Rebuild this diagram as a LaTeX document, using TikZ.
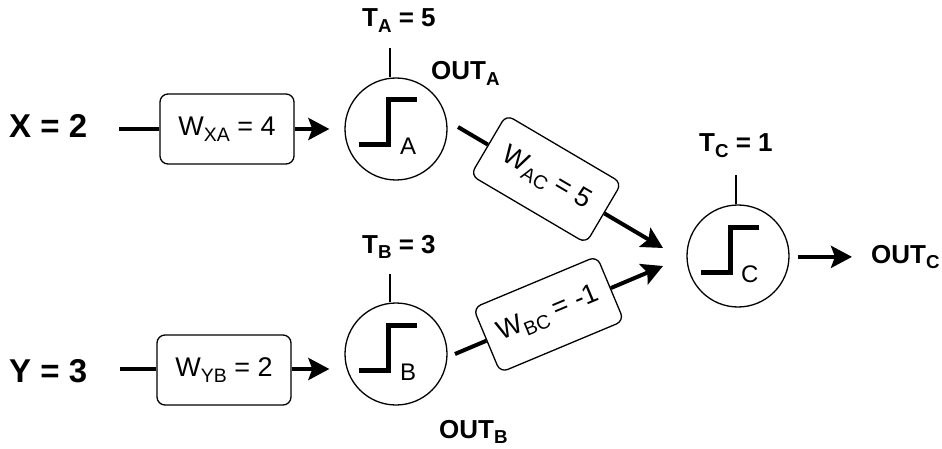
\documentclass[tikz,border=0pt]{standalone}
\usepackage{fontspec}
\setmainfont{Liberation Sans}
\usepackage{graphicx}
\usetikzlibrary{arrows.meta,calc}
\newcommand\sbs[1]{\raisebox{-0.22em}{\scalebox{0.72}{#1}}}
\begin{document}
\begin{tikzpicture}[x=1pt,y=-1pt,
  neuron/.style={circle,draw,line width=1.3pt,minimum size=102pt,inner sep=0pt},
  wbox/.style={draw,rounded corners=8pt,line width=1.3pt,minimum width=134pt,minimum height=70pt,inner sep=0pt,font=\fontsize{27}{30}\selectfont,fill=white},
  conn/.style={line width=4pt},
  arr/.style={conn,-{Stealth[length=21pt,width=22pt,inset=4pt]}},
  big/.style={font=\bfseries\fontsize{33}{36}\selectfont,inner sep=0pt},
  lab/.style={font=\bfseries\fontsize{26}{29}\selectfont,inner sep=0pt},
  clab/.style={font=\fontsize{24}{27}\selectfont,inner sep=0pt,anchor=base west},
  stepline/.style={line width=5pt,miter limit=10},
  thr/.style={line width=2.8pt},
]
\useasboundingbox (0,0) rectangle (942,449);

% inputs
\node[big,anchor=base west] (X) at (9,138) {X = 2};
\node[big,anchor=base west] (Y) at (9,382) {Y = 3};

% weight boxes
\node[wbox] (wxa) at (227,129) {W\sbs{XA} = 4};
\node[wbox] (wyb) at (224,370) {W\sbs{YB} = 2};

% neurons
\node[neuron] (A) at (396,129) {};
\node[neuron] (B) at (396,354) {};
\node[neuron] (C) at (738,256) {};

% step functions
\foreach \n in {A,B,C}{
  \draw[stepline] ($(\n)+(-37,16)$) -- ($(\n)+(-8,16)$) -- ($(\n)+(-8,-29)$) -- ($(\n)+(21,-29)$);
}
\node[clab] (la) at ($(A)+(4,26)$) {A};
\node[clab] (lb) at ($(B)+(4,26)$) {B};
\node[clab] (lc) at ($(C)+(3,26)$) {C};

% thresholds
\coordinate (ta) at ($(A.north)+(-6,-29)$);
\coordinate (tb) at ($(B.north)+(-6,-28)$);
\coordinate (tc) at ($(C.north)+(-2,-29)$);
\draw[thr] ([xshift=-6pt]A.north) -- (ta);
\draw[thr] ([xshift=-6pt]B.north) -- (tb);
\draw[thr] ([xshift=-2pt]C.north) -- (tc);

\node[lab,anchor=base west] (TA) at (362,27) {T\sbs{A} = 5};
\node[lab,anchor=base west] (OA) at (431,80) {OUT\sbs{A}};
\node[lab,anchor=base west] (TB) at (362,253) {T\sbs{B} = 3};
\node[lab,anchor=base west] (OB) at (439,438) {OUT\sbs{B}};
\node[lab,anchor=base west] (TC) at (699,152) {T\sbs{C} = 1};
\node[lab,anchor=base west] (OC) at (871,263) {OUT\sbs{C}};

% input connectors
\coordinate (xs) at (119,129);
\coordinate (ys) at (120,369);
\draw[conn] (xs) -- (wxa.west);
\draw[conn] (ys) -- (ys -| wyb.west);
\draw[arr] (wxa.east) -- ([xshift=-15pt]A.west);
\draw[arr] (wyb.east |- ys) -- ([xshift=-15pt]A.west |- ys);

% A -> C
\coordinate (acs) at (458,127);
\coordinate (ace) at (663,248);
\node[wbox,rotate=-30.5] (wac) at ($(acs)!0.43!(ace)$) {W\sbs{AC} = 5};
\draw[conn] (acs) -- (wac);
\draw[arr] (wac) -- (ace);

% B -> C
\coordinate (bcs) at (455,354);
\coordinate (bce) at (663,266);
\node[wbox,rotate=22.7] (wbc) at ($(bcs)!0.45!(bce)$) {W\sbs{BC} = -1};
\draw[conn] (bcs) -- (wbc);
\draw[arr] (wbc) -- (bce);

% output
\draw[arr] ([xshift=8pt]C.east |- OC.west) -- ([xshift=-19pt]OC.west);
\end{tikzpicture}
\end{document}
